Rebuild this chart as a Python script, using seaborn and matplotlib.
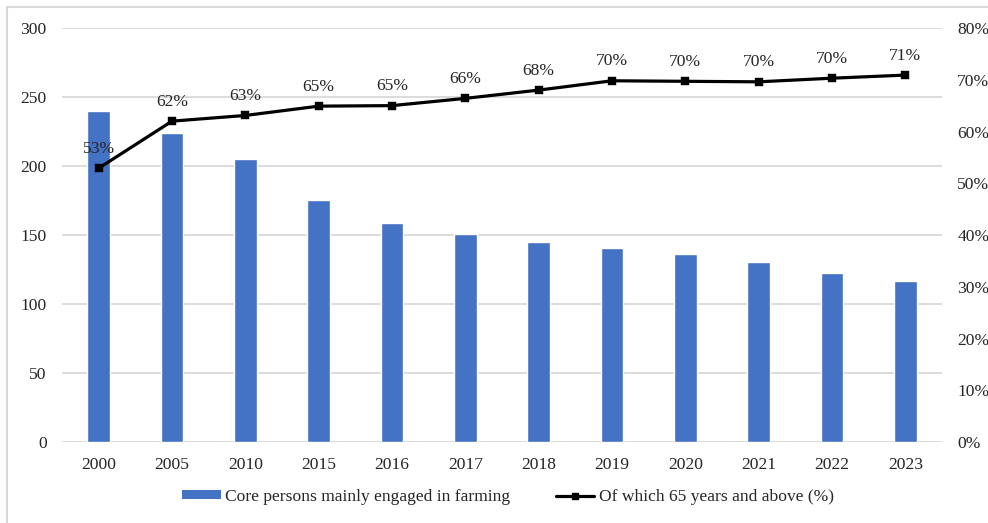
import matplotlib
matplotlib.use("Agg")
import matplotlib.pyplot as plt
from matplotlib.patches import Patch, Rectangle
from matplotlib.lines import Line2D
from matplotlib.ticker import PercentFormatter
import seaborn as sns
import pandas as pd

years = ["2000", "2005", "2010", "2015", "2016", "2017", "2018", "2019",
         "2020", "2021", "2022", "2023"]
core_farmers = [240.0, 224.1, 205.1, 175.7, 158.6, 150.7, 145.1, 140.4,
                136.3, 130.2, 122.6, 116.4]
share_65_plus = [52.9, 62.0, 63.1, 64.9, 65.0, 66.4, 68.0, 69.8,
                 69.7, 69.6, 70.3, 70.9]

bar_label = "Core persons mainly engaged in farming"
line_label = "Of which 65 years and above (%)"

df = pd.DataFrame({"year": years, "farmers": core_farmers, "share": share_65_plus})

sns.set_theme(style="white")
plt.rcParams["font.family"] = ["Liberation Serif", "DejaVu Serif"]
FS = 12.6
plt.rcParams["font.size"] = FS
text_color = "#262626"
grid_color = "#d9d9d9"
bar_color = "#4472c4"

fig = plt.figure(figsize=(9.88, 5.23), dpi=100)
ax = fig.add_axes([62 / 988, 1 - 442 / 523, 880 / 988, 414 / 523])

sns.barplot(data=df, x="year", y="farmers", color=bar_color, width=0.31,
            saturation=1, ax=ax, zorder=2)
ax.set_ylim(0, 300)
ax.set_yticks(range(0, 301, 50))
ax.set_xlim(-0.5, len(years) - 0.5)
ax.yaxis.grid(True, color=grid_color, linewidth=1.3, zorder=0)
ax.set_axisbelow(True)
ax.set_xlabel("")
ax.set_ylabel("")
for s in ax.spines.values():
    s.set_visible(False)
ax.tick_params(axis="both", length=0, pad=11, colors=text_color, labelsize=FS)

ax2 = ax.twinx()
sns.pointplot(data=df, x="year", y="share", color="black", markers="s",
              markersize=5, linewidth=2.3, ax=ax2)
ax2.set_ylim(0, 80)
ax2.set_yticks(range(0, 81, 10))
ax2.yaxis.set_major_formatter(PercentFormatter(decimals=0))
ax2.set_xlim(-0.5, len(years) - 0.5)
ax2.set_ylabel("")
ax2.set_xlabel("")
for s in ax2.spines.values():
    s.set_visible(False)
ax2.tick_params(axis="both", length=0, pad=11, colors=text_color, labelsize=FS)

for i, v in enumerate(share_65_plus):
    ax2.annotate(f"{round(v)}%", (i, v), xytext=(0, 14), textcoords="offset points",
                 ha="center", va="center", fontsize=FS, color=text_color)

handles = [
    Patch(facecolor=bar_color, edgecolor="none"),
    Line2D([0], [0], color="black", linewidth=2.3, marker="s", markersize=5),
]
fig.legend(handles, [bar_label, line_label], loc="center",
           bbox_to_anchor=(508 / 988, 1 - 497 / 523), ncol=2, frameon=False,
           handlelength=2.2, handleheight=0.42, handletextpad=0.25,
           columnspacing=2.6, fontsize=FS, labelcolor=text_color)

fig.patches.append(Rectangle((7 / 988, -0.05), 1.05, 1 - 7 / 523 + 0.05,
                             transform=fig.transFigure, fill=False,
                             edgecolor=grid_color, linewidth=1.5))

fig.savefig("out.png", dpi=100)
